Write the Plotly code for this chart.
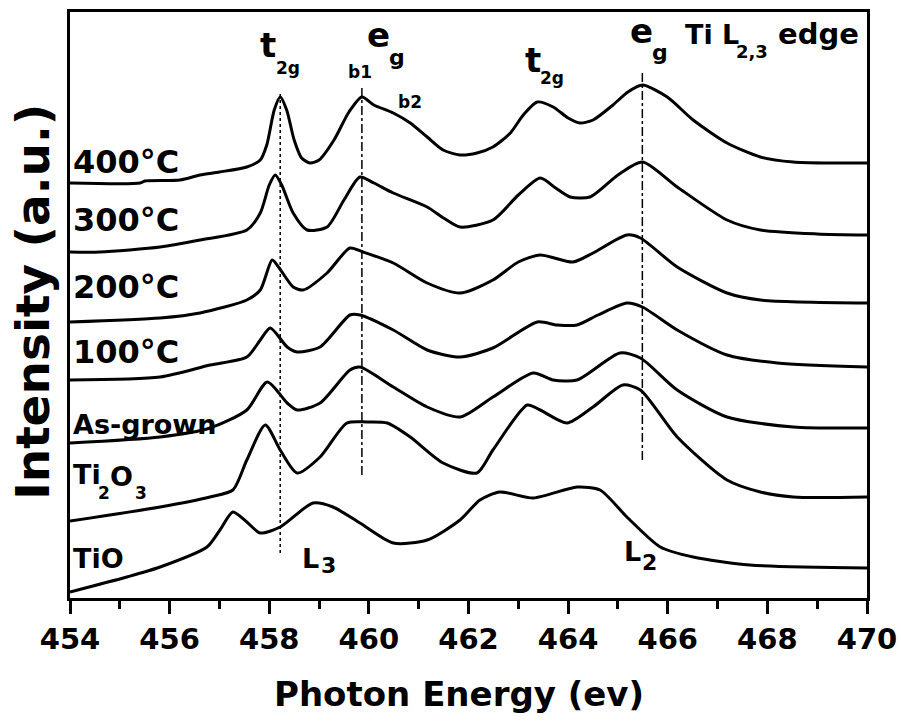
import plotly.graph_objects as go

# ---------------- data (Photon energy in eV, intensity in a.u., stacked) ----------------
e_400 = [454.0, 455.41, 455.5, 456.21, 456.61, 457.0, 457.55, 457.82, 457.95, 458.1, 458.22, 458.35, 458.5, 458.65,
         458.82, 459.0, 459.3, 459.6, 459.86, 460.1, 460.49, 460.83, 461.17, 461.49, 461.83, 462.17, 462.49, 462.84,
         463.1, 463.38, 463.7, 464.0, 464.24, 464.5, 464.9, 465.2, 465.49, 465.99, 466.51, 467.19, 467.86, 468.52,
         469.2, 470.0]
i_400 = [415, 415, 417, 418, 423, 426, 431, 438, 453, 488, 501, 488, 458, 440,
         435, 438, 458, 486, 501, 493, 485, 475, 461, 448, 443, 445, 451, 465,
         483, 496, 491, 480, 475, 478, 493, 506, 513, 501, 478, 455, 441, 436,
         435, 435]

e_300 = [454.0, 454.6, 455.81, 456.61, 457.55, 457.82, 458.0, 458.12, 458.25, 458.48, 458.76, 459.16, 459.5, 459.82,
         460.1, 460.49, 461.17, 461.5, 461.83, 462.49, 463.0, 463.44, 463.75, 464.04, 464.44, 465.0, 465.49, 466.19,
         467.19, 467.86, 469.0, 470.0]
i_300 = [346, 346, 351, 358, 368, 385, 413, 423, 413, 385, 368, 371, 398, 421,
         415, 405, 391, 380, 371, 378, 403, 420, 410, 401, 401, 423, 436, 411,
         378, 368, 364, 363]

e_200 = [454.0, 455.81, 456.61, 457.55, 457.82, 458.06, 458.2, 458.48, 458.68, 459.16, 459.62, 459.88, 460.49, 461.17,
         461.83, 462.49, 463.0, 463.44, 464.1, 464.5, 465.18, 465.45, 466.19, 467.19, 467.86, 470.0]
i_200 = [276, 280, 285, 298, 308, 338, 330, 311, 308, 325, 350, 346, 335, 315,
         305, 318, 336, 343, 336, 345, 363, 360, 331, 305, 298, 295]

e_100 = [454.0, 455.81, 456.81, 457.55, 457.82, 458.02, 458.36, 458.56, 459.02, 459.62, 459.82, 460.49, 461.17, 461.83,
         462.49, 463.38, 463.78, 464.18, 464.6, 465.18, 465.49, 466.19, 467.19, 468.2, 470.0]
i_100 = [218, 221, 233, 241, 258, 270, 251, 246, 251, 283, 283, 268, 248, 241,
         250, 276, 273, 273, 283, 295, 291, 268, 243, 235, 231]

e_asg = [454.0, 455.81, 456.81, 457.55, 457.96, 458.36, 458.56, 459.02, 459.62, 459.82, 460.49, 461.17, 461.83, 462.49,
         463.3, 463.7, 464.18, 465.04, 465.45, 466.19, 467.19, 468.52, 470.0]
i_asg = [155, 161, 170, 188, 216, 195, 188, 195, 228, 231, 211, 191, 181, 201,
         225, 218, 218, 245, 240, 208, 181, 171, 170]

e_ti2o3 = [454.0, 455.81, 456.81, 457.27, 457.55, 457.92, 458.22, 458.56, 459.02, 459.56, 459.96, 460.37, 460.83, 461.49,
           462.17, 462.49, 463.18, 463.44, 463.98, 464.5, 465.1, 465.45, 466.19, 467.19, 467.86, 468.52, 470.0]
i_ti2o3 = [77, 91, 101, 108, 138, 173, 148, 125, 141, 175, 176, 175, 161, 135,
           125, 148, 193, 188, 175, 191, 213, 208, 161, 118, 106, 101, 101]

e_tio = [454.0, 455.14, 455.81, 456.75, 457.01, 457.27, 457.55, 457.82, 458.22, 458.88, 459.28, 459.82, 460.49, 461.17,
         461.83, 462.23, 462.63, 463.3, 464.18, 464.64, 465.18, 465.85, 466.51, 467.65, 470.0]
i_tio = [6, 21, 31, 51, 68, 86, 76, 65, 71, 95, 91, 75, 55, 58,
         78, 98, 106, 100, 111, 108, 81, 51, 41, 33, 30]

series = [
    ("400°C", e_400, i_400),
    ("300°C", e_300, i_300),
    ("200°C", e_200, i_200),
    ("100°C", e_100, i_100),
    ("As-grown", e_asg, i_asg),
    ("Ti2O3", e_ti2o3, i_ti2o3),
    ("TiO", e_tio, i_tio),
]

# reference lines: (energy, bottom intensity, top intensity, dash)
ref_lines = [(458.22, 45, 506, "dot"), (459.86, 123, 511, "dashdot"), (465.49, 138, 526, "dashdot")]

x_ticks = [454, 456, 458, 460, 462, 464, 466, 468, 470]

# ---------------- figure ----------------
FONT = "DejaVu Sans"
fig = go.Figure()
for name, ex, iy in series:
    fig.add_trace(go.Scatter(x=ex, y=iy, mode="lines", name=name,
                             line=dict(color="black", width=3, shape="spline", smoothing=0.7),
                             showlegend=False, hoverinfo="skip"))

for ev, y0, y1, dash in ref_lines:
    fig.add_shape(type="line", xref="x", yref="y", x0=ev, x1=ev, y0=y0, y1=y1,
                  line=dict(color="black", width=1.5, dash=dash))

PX0, PPX = 70, 49.8  # pixel of 454 eV and pixels per eV (for placing text)


def E(px):
    return 454 + (px - PX0) / PPX


def I(py):
    return 598 - py


def txt(s, px, py, size, xanchor="center"):
    fig.add_annotation(x=E(px), y=I(py), xref="x", yref="y", text=s, showarrow=False,
                       xanchor=xanchor, yanchor="middle", borderpad=0,
                       font=dict(family=FONT, size=size, color="black", weight="bold"))


# curve labels (left)
txt("400°C", 72, 162, 32, "left")
txt("300°C", 72, 220, 32, "left")
txt("200°C", 72, 287, 32, "left")
txt("100°C", 72, 352, 32, "left")
txt("As-grown", 72, 424, 27, "left")
txt("Ti", 72, 474, 27, "left")
txt("2", 104, 493, 17)
txt("O", 121, 476, 27)
txt("3", 141, 493, 17)
txt("TiO", 72, 558, 27, "left")

# peak labels
txt("t", 268, 45, 34)
txt("2g", 288, 68, 17)
txt("e", 378, 35, 34)
txt("g", 397, 57, 22)
txt("b1", 360, 72, 17)
txt("b2", 410, 102, 17)
txt("t", 533, 60, 34)
txt("2g", 552, 78, 17)
txt("e", 641, 31, 34)
txt("g", 660, 52, 22)
txt("Ti L", 684, 34, 27, "left")
txt("2,3", 752, 51, 18)
txt("edge", 777, 34, 29, "left")
txt("L", 310, 558, 27)
txt("3", 328, 565, 22)
txt("L", 632, 551, 27)
txt("2", 649, 562, 22)

# axis titles
fig.add_annotation(x=-0.048, y=0.505, xref="paper", yref="paper", text="Intensity (a.u.)", textangle=-90,
                   showarrow=False, xanchor="center", yanchor="middle",
                   font=dict(family=FONT, size=47, color="black", weight="bold"))
fig.add_annotation(x=0.4875, y=-0.163, xref="paper", yref="paper", text="Photon Energy (ev)",
                   showarrow=False, xanchor="center", yanchor="middle",
                   font=dict(family=FONT, size=34, color="black", weight="bold"))

fig.update_layout(
    width=901, height=722,
    margin=dict(l=70, r=34, t=12, b=124, autoexpand=False),
    paper_bgcolor="white", plot_bgcolor="white",
    font=dict(family=FONT, color="black"),
)
fig.update_xaxes(range=[454, 470], tickvals=x_ticks, ticktext=[str(v) for v in x_ticks], automargin=False,
                 ticks="outside", ticklen=13, tickwidth=3, tickcolor="black", ticklabelstandoff=0,
                 minor=dict(ticks="outside", ticklen=8, tickwidth=3, tickcolor="black", dtick=1, tick0=454),
                 showline=True, linewidth=3, linecolor="black", mirror=True, showgrid=False, zeroline=False,
                 tickfont=dict(family=FONT, size=29, color="black", weight="bold"))
fig.update_yaxes(range=[0, 586], showticklabels=False, ticks="", showline=True, linewidth=3, automargin=False,
                 linecolor="black", mirror=True, showgrid=False, zeroline=False)

fig.write_html("out.html")
